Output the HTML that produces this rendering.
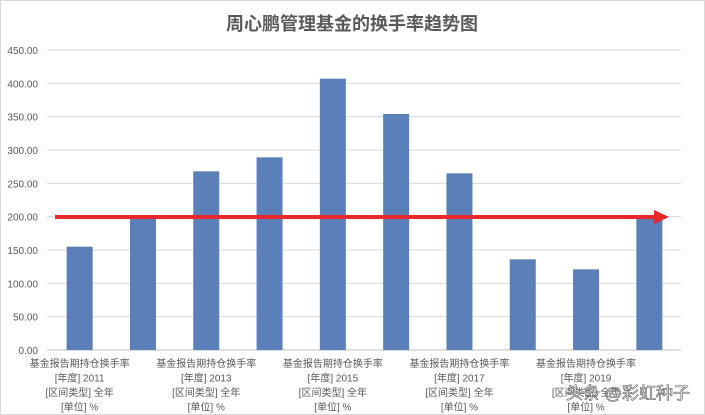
<!DOCTYPE html>
<html><head><meta charset="utf-8"><style>
body{margin:0;background:#fff}
svg{display:block;font-family:"Liberation Sans","Noto Sans CJK SC",sans-serif}
</style></head><body>
<svg id="c" width="705" height="415">
<rect x="0.5" y="0.5" width="704" height="414" fill="#fff" stroke="#d9d9d9"/>
<text x="352" y="30" text-anchor="middle" font-size="18" font-weight="bold" fill="#595959">周心鹏管理基金的换手率趋势图</text>
<g id="grid"></g><g id="bars"></g><g id="xl"></g>
<g>
<line x1="55" y1="217" x2="656" y2="217" stroke="#e8282b" stroke-width="4"/>
<polygon points="654,210 669,217 654,224" fill="#e8282b"/>
</g>
<text x="690" y="399" text-anchor="end" font-size="17" fill="#fff" stroke="#555" stroke-width="0.6">头条 @彩虹种子</text>
</svg>
<script>
const years=[2011,2012,2013,2014,2015,2016,2017,2018,2019,2020];
const values=[155,197,268,289,407,354,265,136,121,200];
const ticks=[0,50,100,150,200,250,300,350,400,450];
const ns="http://www.w3.org/2000/svg";
const X0=48,X1=681,Y0=350,Y1=50,MAX=450;
const band=(X1-X0)/years.length;
const y=v=>Y0-(v/MAX)*(Y0-Y1);
const xc=i=>X0+band*(i+0.5);
function mk(t,a,p){const e=document.createElementNS(ns,t);for(const k in a)e.setAttribute(k,a[k]);p.appendChild(e);return e;}
const g=document.getElementById('grid');
ticks.forEach(t=>{
 const l=mk('line',{x1:X0-1,x2:X1,y1:y(t),y2:y(t),stroke:t===0?'#bfbfbf':'#d9d9d9','stroke-width':1},g);
 
 
 const tx=mk('text',{x:38,y:y(t)+4,'text-anchor':'end','font-size':10,fill:'#595959'},g);
 tx.textContent=t.toFixed(2);
 
 
});
const b=document.getElementById('bars');
values.forEach((v,i)=>{
 const r=mk('rect',{x:xc(i)-13,y:y(v),width:26,height:Y0-y(v),fill:'#5b80b9'},b);
 
 
});
const xl=document.getElementById('xl');
years.forEach((yr,i)=>{
 if(i%2)return;
 const lines=['基金报告期持仓换手率','[年度] '+yr,'[区间类型] 全年','[单位] %'];
 lines.forEach((s,j)=>{
  const t=mk('text',{x:xc(i),y:367+j*14.5,'text-anchor':'middle','font-size':10,fill:'#595959'},xl);
  t.textContent=s;
  
  
 });
});
</script>
</body></html>
